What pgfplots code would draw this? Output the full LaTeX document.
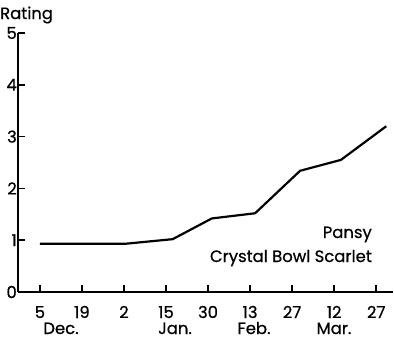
\documentclass[border=0pt]{standalone}
\usepackage{fontspec}
\setmainfont{Poppins}[FakeBold=0.6]
\usepackage{pgfplots}
\pgfplotsset{compat=1.18}
\begin{document}
\fontsize{16.5}{19}\selectfont
\begin{tikzpicture}
\begin{axis}[
  scale only axis, width=375bp, height=259bp,
  at={(0,0)}, anchor=south west,
  xmin=-0.52, xmax=8.4, ymin=0, ymax=5,
  axis x line=bottom, axis y line=left,
  axis line style={line width=1.8pt,-},
  xtick={0,1,2,3,4,5,6,7,8},
  xticklabels={5,19,2,15,30,13,27,12,27},
  ytick={0,1,2,3,4,5},
  tick align=inside, major tick length=7bp,
  tick style={line width=1.8pt,black},
  /pgf/number format/assume math mode=true,
  ticklabel style={font=\fontsize{16.5}{19}\selectfont},
  xticklabel style={anchor=base, yshift=-26bp},
  yticklabel style={inner sep=1bp},
  clip=false,
]
\addplot[black, line width=2.2pt, line join=round] coordinates {
 (0,0.93) (1,0.93) (2.02,0.93) (3.16,1.02) (4.09,1.42) (5.12,1.52) (6.19,2.34) (7.16,2.55) (8.24,3.2)
};
\end{axis}
\useasboundingbox (-18bp,-47bp) rectangle (376bp,292bp);
\node[anchor=west, inner sep=0pt] at (-18bp,277bp) {Rating};
\node[anchor=base east, inner sep=0pt] at (354bp,54bp) {Pansy};
\node[anchor=base east, inner sep=0pt] at (354bp,30bp) {Crystal Bowl Scarlet};
\node[anchor=base, inner sep=0pt, text depth=0pt] at (43bp,-42bp) {Dec.};
\node[anchor=base, inner sep=0pt, text depth=0pt] at (157bp,-42bp) {Jan.};
\node[anchor=base, inner sep=0pt, text depth=0pt] at (236bp,-42bp) {Feb.};
\node[anchor=base, inner sep=0pt, text depth=0pt] at (316bp,-42bp) {Mar.};
\end{tikzpicture}
\end{document}
